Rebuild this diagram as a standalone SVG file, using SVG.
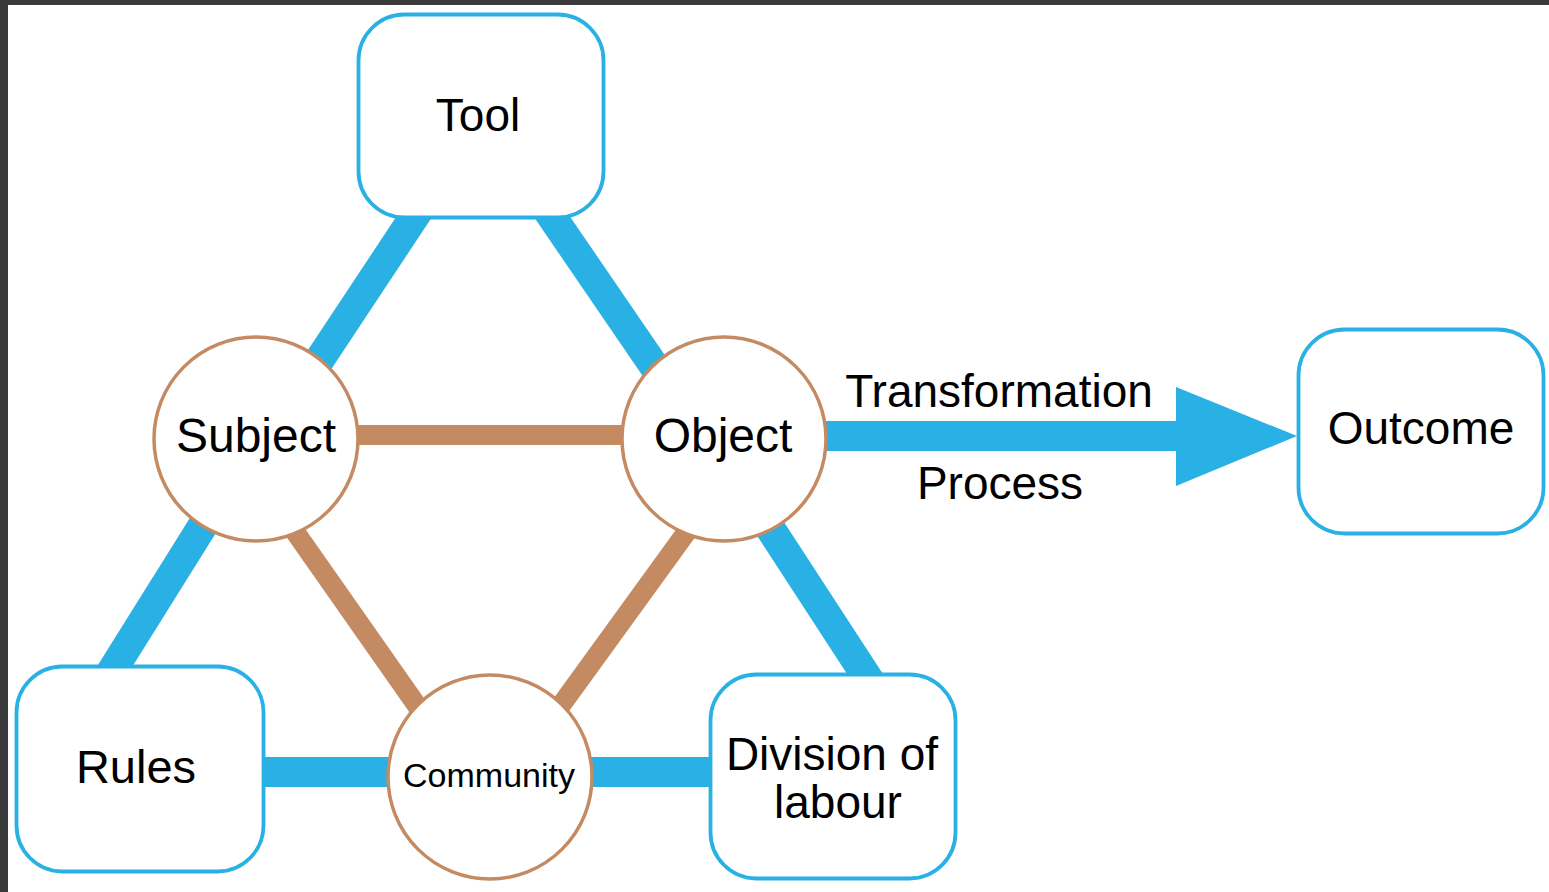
<svg xmlns="http://www.w3.org/2000/svg" width="1549" height="892" viewBox="0 0 1549 892">
<style>
.box{fill:#fff;stroke:#29b0e4;stroke-width:3.8}
.circ{fill:#fff;stroke:#c48a62;stroke-width:3.5}
.blue{stroke:#29b0e4;stroke-width:30;fill:none}
.brown{stroke:#c48a62;stroke-width:20;fill:none}
text{font-family:"Liberation Sans",Arial,sans-serif;fill:#000;text-anchor:middle}
</style>
<rect x="0" y="0" width="1549" height="892" fill="#fff"/>
<rect x="0" y="0" width="1549" height="5" fill="#3a3a3a"/>
<rect x="0" y="0" width="8" height="892" fill="#3a3a3a"/>
<g id="connectors">
<line class="blue" x1="481" y1="116" x2="267" y2="439"/>
<line class="blue" x1="483" y1="116" x2="704" y2="439"/>
<line class="blue" x1="257" y1="439" x2="100" y2="690"/>
<line class="blue" x1="712" y1="439" x2="880" y2="697"/>
<line class="blue" x1="140" y1="772" x2="833" y2="772"/>
<line class="brown" x1="257" y1="435" x2="724" y2="435"/>
<line class="brown" x1="230" y1="439" x2="467" y2="777"/>
<line class="brown" x1="754" y1="439" x2="509" y2="777"/>
<line class="blue" x1="724" y1="436" x2="1180" y2="436"/>
<polygon points="1176,387 1297,436 1176,486" fill="#29b0e4"/>
<text x="999" y="407" font-size="46">Transformation</text>
<text x="1000" y="499" font-size="46">Process</text>
</g>
<g id="tool"><rect class="box" x="358.5" y="14.5" width="245" height="203" rx="46"/><text x="478" y="131" font-size="46">Tool</text></g>
<g id="subject"><circle class="circ" cx="256" cy="439" r="102"/><text x="256" y="452" font-size="48">Subject</text></g>
<g id="object"><circle class="circ" cx="724" cy="439" r="102"/><text x="723" y="452" font-size="48">Object</text></g>
<g id="outcome"><rect class="box" x="1298.5" y="329.5" width="245" height="204" rx="46"/><text x="1421" y="444" font-size="46">Outcome</text></g>
<g id="rules"><rect class="box" x="16.5" y="666.5" width="247" height="205" rx="46"/><text x="136" y="783" font-size="47">Rules</text></g>
<g id="community"><circle class="circ" cx="490" cy="777" r="102"/><text x="489" y="787" font-size="34">Community</text></g>
<g id="division"><rect class="box" x="710.5" y="674.5" width="245" height="204" rx="46"/><text x="832" y="770" font-size="46">Division of</text><text x="838" y="818" font-size="46">labour</text></g>
</svg>
